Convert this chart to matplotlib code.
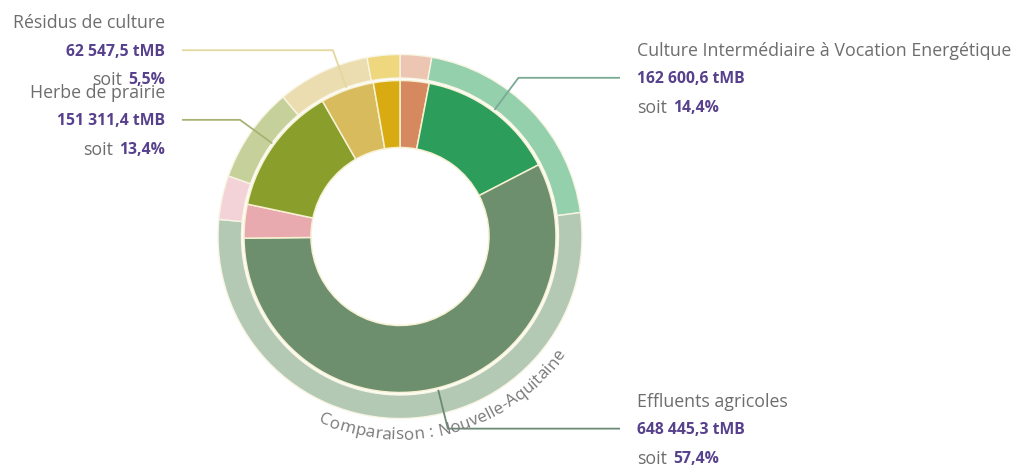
"""Gisement agricole : double anneau (territoire / comparaison Nouvelle-Aquitaine)."""
import numpy as np
import matplotlib
matplotlib.use('Agg')
import matplotlib.pyplot as plt

plt.rcParams.update({
    'font.family': ['Open Sans', 'DejaVu Sans'],
})

# ---------------------------------------------------------------------
# data (tMB) -- ring order clockwise from 12 o'clock
# ---------------------------------------------------------------------
categories = ['Autre 1', 'Culture Intermédiaire à Vocation Energétique',
              'Effluents agricoles', 'Autre 2', 'Herbe de prairie',
              'Résidus de culture', 'Autre 3']
tonnage = [33900.0, 162600.6, 648445.3, 39500.0, 151311.4, 62547.5, 30866.0]
# Nouvelle-Aquitaine shares (%), same order
share_na = [2.8, 20.1, 53.6, 3.9, 8.5, 8.2, 2.9]
labelled = [1, 2, 4, 5]          # slices carrying a call-out
side = {1: 'right', 2: 'right', 4: 'left', 5: 'left'}

col_in = ['#d6885f', '#2d9d5b', '#6d8f6d', '#e8a9af', '#8a9f2b', '#d7bb5d', '#d8ab12']
col_out = ['#edc5b3', '#95d0ac', '#b4c9b4', '#f3d3d8', '#c6d09a', '#ebddb0', '#eed77d']
col_line = {1: '#7aa995', 2: '#6b8a74', 4: '#a7b373', 5: '#e2d8a0'}

GREY = '#6d6d6d'
PURPLE = '#57408c'
FS_T = 12.8      # grey text
FS_B = 11.3      # bold purple figures
DY = 28.5

W, H = 1019, 465
CX, CY = 400, 465 - 236.5
R_IN, W_IN = 156, 67
R_OUT, W_OUT = 182, 23.5

fig = plt.figure(figsize=(W/100, H/100), dpi=100)
ax = fig.add_axes([0, 0, 1, 1])

ax.pie(share_na, radius=R_OUT, center=(CX, CY), startangle=90, counterclock=False,
       colors=col_out, wedgeprops=dict(width=W_OUT, edgecolor='#f8f5e4', linewidth=1.0))
ax.pie(tonnage, radius=R_IN, center=(CX, CY), startangle=90, counterclock=False,
       colors=col_in, wedgeprops=dict(width=W_IN, edgecolor='#f6f1d2', linewidth=1.1))
ax.set_xlim(0, W)
ax.set_ylim(0, H)
ax.set_aspect('equal')
ax.axis('off')

renderer = fig.canvas.get_renderer()


def tw(s, **kw):
    t = ax.text(0, 0, s, **kw)
    w = t.get_window_extent(renderer).width
    t.remove()
    return w


total = sum(tonnage)
frac = np.array(tonnage) / total
ends = np.cumsum(frac)
starts = ends - frac


def fr_num(v, dec):
    s = f'{v:,.{dec}f}'
    return s.replace(',', ' ').replace('.', ',')


# call-outs: radial stub from the ring, then horizontal to the label
for i in labelled:
    mid = (starts[i] + ends[i]) / 2
    ang = np.pi/2 - 2*np.pi*mid
    x0, y0 = CX + 158*np.cos(ang), CY + 158*np.sin(ang)
    x1, y1 = CX + 198*np.cos(ang), CY + 198*np.sin(ang)
    if side[i] == 'right':
        x2, xt, ha = 620, 637, 'left'
    else:
        x2, xt, ha = 182, 165, 'right'
    ax.plot([x0, x1, x2], [y0, y1, y1], color=col_line[i], lw=1.3,
            solid_capstyle='butt', zorder=3)

    yt = y1 - 1.5
    ax.text(xt, yt + DY, categories[i], ha=ha, va='center', fontsize=FS_T, color=GREY)
    ax.text(xt, yt, fr_num(tonnage[i], 1) + ' tMB', ha=ha, va='center',
            fontsize=FS_B, color=PURPLE, fontweight='bold')
    pct = fr_num(100*frac[i], 1) + '%'
    # "soit" in grey, percentage in bold purple
    wp = tw(pct, fontsize=FS_B, fontweight='bold')
    ws = tw('soit', fontsize=FS_T) + 6
    if ha == 'left':
        ax.text(xt, yt - DY, 'soit', ha='left', va='center', fontsize=FS_T, color=GREY)
        ax.text(xt + ws, yt - DY, pct, ha='left', va='center', fontsize=FS_B,
                color=PURPLE, fontweight='bold')
    else:
        ax.text(xt, yt - DY, pct, ha='right', va='center', fontsize=FS_B,
                color=PURPLE, fontweight='bold')
        ax.text(xt - wp - 6, yt - DY, 'soit', ha='right', va='center',
                fontsize=FS_T, color=GREY)

# curved caption under the outer ring
caption = 'Comparaison : Nouvelle-Aquitaine'
base = tw('aa', fontsize=12.3)
widths = [tw('a' + ch + 'a', fontsize=12.3) - base for ch in caption]
R_TXT = 199
span = sum(widths) / R_TXT
theta = np.deg2rad(285.5) - span / 2
for ch, w in zip(caption, widths):
    th = theta + (w / 2) / R_TXT
    ax.text(CX + R_TXT*np.cos(th), CY + R_TXT*np.sin(th), ch, fontsize=12.3,
            color='#7a7a7a', ha='center', va='center',
            rotation=np.rad2deg(th) + 90, rotation_mode='anchor')
    theta += w / R_TXT

fig.savefig('out.png', dpi=100, facecolor='white')
